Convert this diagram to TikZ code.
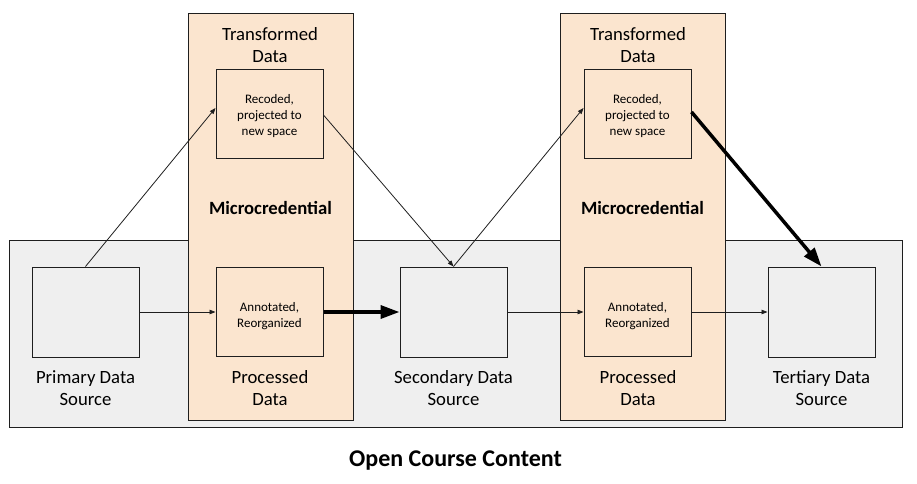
\documentclass[tikz,border=0pt]{standalone}
\usepackage{fontspec}
\setmainfont{Carlito}
\usetikzlibrary{arrows.meta}
\definecolor{peach}{RGB}{251,229,207}
\definecolor{lgray}{RGB}{239,239,239}
\definecolor{edge}{RGB}{30,30,30}
\begin{document}
\begin{tikzpicture}[x=1pt,y=-1pt,
  panel/.style={draw=edge,line width=1pt,inner sep=0pt},
  srcbox/.style={draw=edge,line width=1pt,fill=lgray,minimum width=107pt,minimum height=90pt,inner sep=0pt},
  stepbox/.style={draw=edge,line width=1pt,fill=peach,minimum width=107pt,minimum height=89pt,inner sep=0pt},
  big/.style={font=\fontsize{18.7}{22}\selectfont,align=center,inner sep=0pt},
  small/.style={font=\fontsize{13}{16.3}\selectfont,align=center,inner sep=0pt},
  thin/.style={line width=0.8pt,draw=edge,-{Triangle[length=6pt,width=4.5pt]}},
  thick/.style={line width=3.5pt,draw=black,-{Triangle[length=19pt,width=13pt]}}
]
\useasboundingbox (0,0) rectangle (917,483);
% background areas
\node[panel,fill=lgray,minimum width=893pt,minimum height=187pt] (occ) at (455.5,333.5) {};
\node[panel,fill=peach,minimum width=165pt,minimum height=407pt] (mc1) at (270.5,216.5) {};
\node[panel,fill=peach,minimum width=165pt,minimum height=407pt] (mc2) at (642.5,216.5) {};
% boxes
\node[srcbox] (prim) at (85.5,312) {};
\node[srcbox] (sec) at (453.5,312) {};
\node[srcbox] (ter) at (821.5,312) {};
\node[stepbox] (t1) at (269.5,113.5) {};
\node[stepbox] (p1) at (269.5,312) {};
\node[stepbox] (t2) at (637.5,113.5) {};
\node[stepbox] (p2) at (637.5,312) {};
% texts
\node[small] (t1txt) at (269.5,116) {Recoded,\\projected to\\new space};
\node[small] (t2txt) at (637.5,116) {Recoded,\\projected to\\new space};
\node[small] (p1txt) at (269.5,316) {Annotated,\\Reorganized};
\node[small] (p2txt) at (637.5,316) {Annotated,\\Reorganized};
\node[big] (tl1) at (270,45) {Transformed\\Data};
\node[big] (tl2) at (638,45) {Transformed\\Data};
\node[big,font=\fontsize{18.7}{22}\selectfont\bfseries] (m1) at (270.5,208) {Microcredential};
\node[big,font=\fontsize{18.7}{22}\selectfont\bfseries] (m2) at (642.5,208) {Microcredential};
\node[big] (pl1) at (270,388) {Processed\\Data};
\node[big] (pl2) at (638,388) {Processed\\Data};
\node[big] (pl) at (85.5,388) {Primary Data\\Source};
\node[big] (sl) at (453.5,388) {Secondary Data\\Source};
\node[big] (tl) at (821.5,388) {Tertiary Data\\Source};
\node[font=\fontsize{24}{28}\selectfont\bfseries,inner sep=0pt] (occl) at (455.5,461) {Open Course Content};
% connectors
\draw[thin] (prim.north) -- ([yshift=5.5pt]t1.west);
\draw[thin] ([yshift=-1.5pt]t1.east) -- (sec.north);
\draw[thin] (sec.north) -- ([yshift=5.5pt]t2.west);
\draw[thick] ([yshift=1.5pt]t2.east) -- (ter.north);
\draw[thin] (prim.east) -- (p1.west);
\draw[thick] (p1.east) -- (sec.west);
\draw[thin] (sec.east) -- (p2.west);
\draw[thin] (p2.east) -- (ter.west);
\end{tikzpicture}
\end{document}
